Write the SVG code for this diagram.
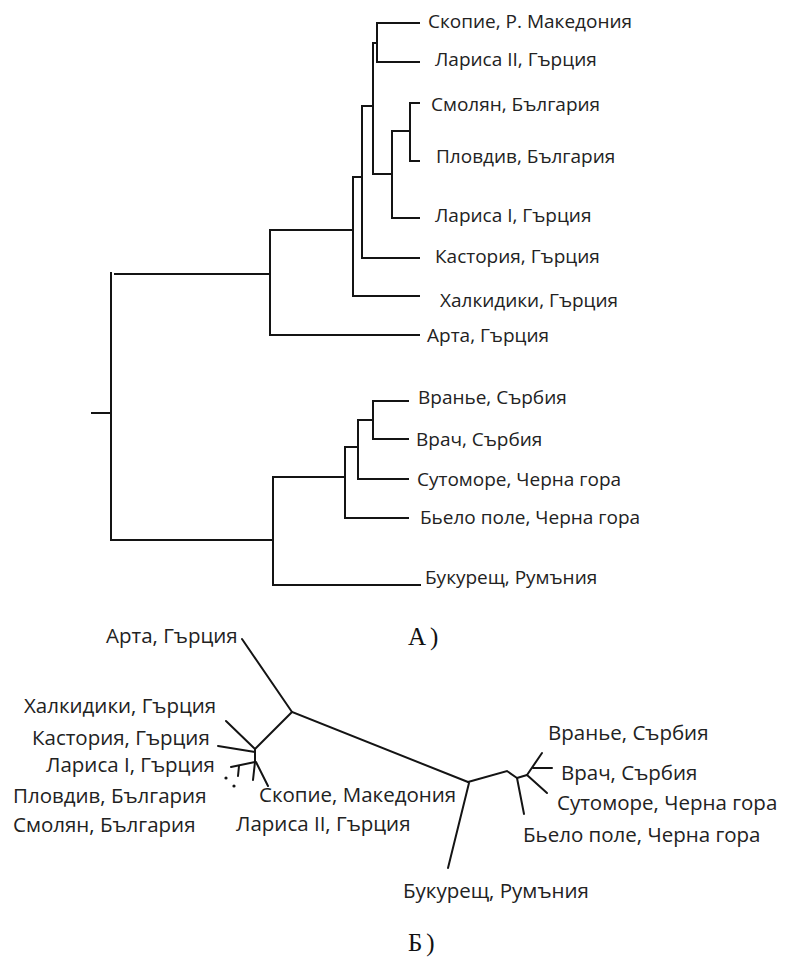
<svg xmlns="http://www.w3.org/2000/svg" width="787" height="958" viewBox="0 0 787 958">
<style>
.e{fill:none;stroke:#141414;stroke-width:2;stroke-linecap:square}
.u{fill:none;stroke:#141414;stroke-width:2;stroke-linecap:round}
.t{font-family:"Open Sans","Noto Sans",sans-serif;font-size:19px;fill:#222}
.b{font-family:"Open Sans","Noto Sans",sans-serif;font-size:20.5px;fill:#222}
.p{font-family:"Liberation Serif",serif;font-size:25px;fill:#111;letter-spacing:4px}
</style>
<rect width="787" height="958" fill="#fff"/>
<g id="connectors">
<g id="rooted">
<path class="e" d="M377 23V62M377 23H419M377 62H419M373 43H377"/>
<path class="e" d="M410 103V161M410 103H419M410 161H419M392 131H410M392 131V218M392 218H419M373 174H392M373 43V174"/>
<path class="e" d="M362 106H373M362 106V258M362 258H419M353 177H362M353 177V296M353 296H419M270 230H353M270 230V335M270 335H419"/>
<path class="e" d="M115 274H270M111 273V540M92 413H111M111 540H273"/>
<path class="e" d="M273 477V585M273 585H420M273 477H345M345 447V518M345 518H408M345 447H358M358 420V479M358 479H408M358 420H373M373 401V439M373 401H408M373 439H408"/>
</g>
<g id="unrooted">
<path class="u" d="M242 639L292 712L468 782"/>
<path class="u" d="M292 712L255 749"/>
<path class="u" d="M226 721L255 749"/>
<path class="u" d="M218 746L255 752"/>
<path class="u" d="M255 749V762"/>
<path class="u" d="M255 762L231 767"/>
<path class="u" d="M239 766L238 776"/>
<path class="u" d="M255 762L253 780"/>
<path class="u" d="M256 762L268 786"/>
<circle cx="226" cy="778" r="1.6" fill="#141414"/>
<circle cx="234" cy="786" r="1.6" fill="#141414"/>
<path class="u" d="M468 782L507 771L517 778"/>
<path class="u" d="M517 778L524 814"/>
<path class="u" d="M517 778L527 775"/>
<path class="u" d="M527 775L547 793"/>
<path class="u" d="M527 775L542 753"/>
<path class="u" d="M533 768L552 768"/>
<path class="u" d="M469 783L448 868"/>
</g>
</g>
<g id="labels-a">
<text class="t" x="428" y="28">Скопие, Р. Македония</text>
<text class="t" x="435" y="66">Лариса II, Гърция</text>
<text class="t" x="431" y="111">Смолян, България</text>
<text class="t" x="436" y="163">Пловдив, България</text>
<text class="t" x="435" y="222">Лариса I, Гърция</text>
<text class="t" x="435" y="263">Кастория, Гърция</text>
<text class="t" x="440" y="307">Халкидики, Гърция</text>
<text class="t" x="427" y="342">Арта, Гърция</text>
<text class="t" x="418" y="404">Вранье, Сърбия</text>
<text class="t" x="416" y="446">Врач, Сърбия</text>
<text class="t" x="417" y="486">Сутоморе, Черна гора</text>
<text class="t" x="420" y="524">Бьело поле, Черна гора</text>
<text class="t" x="425" y="584">Букурещ, Румъния</text>
<text class="p" x="408" y="645">А)</text>
</g>
<g id="labels-b">
<text class="b" x="106" y="643">Арта, Гърция</text>
<text class="b" x="24" y="713">Халкидики, Гърция</text>
<text class="b" x="32" y="745">Кастория, Гърция</text>
<text class="b" x="46" y="772">Лариса I, Гърция</text>
<text class="b" x="13" y="803">Пловдив, България</text>
<text class="b" x="13" y="832">Смолян, България</text>
<text class="b" x="259" y="802">Скопие, Македония</text>
<text class="b" x="236" y="831">Лариса II, Гърция</text>
<text class="b" x="548" y="740">Вранье, Сърбия</text>
<text class="b" x="561" y="780">Врач, Сърбия</text>
<text class="b" x="557" y="810">Сутоморе, Черна гора</text>
<text class="b" x="523" y="842">Бьело поле, Черна гора</text>
<text class="b" x="403" y="898">Букурещ, Румъния</text>
<text class="p" x="408" y="951">Б)</text>
</g>
</svg>
